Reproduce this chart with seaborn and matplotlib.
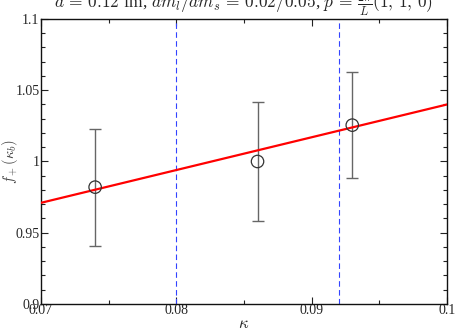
import numpy as np
import pandas as pd
import matplotlib
matplotlib.use('Agg')
import matplotlib.pyplot as plt
import seaborn as sns
from matplotlib.ticker import MultipleLocator

sns.set_style('ticks')
plt.rcParams['font.family'] = ['Liberation Serif', 'DejaVu Serif']
plt.rcParams['mathtext.fontset'] = 'cm'

# data
kappa = [0.074, 0.086, 0.093]
fplus = [0.982, 1.000, 1.0255]
fplus_err = [0.041, 0.042, 0.037]
fit_kappa = [0.07, 0.10]
fit_fplus = [0.971, 1.040]
kappa_marks = [0.080, 0.092]

pts = pd.DataFrame({'kappa': kappa, 'fplus': fplus, 'err': fplus_err})
fit = pd.DataFrame({'kappa': fit_kappa, 'fplus': fit_fplus})

fig = plt.figure(figsize=(4.57, 3.33), dpi=100)
ax = fig.add_axes([0.0897, 0.0871, 0.8884, 0.8559])

for k in kappa_marks:
    ax.axvline(k, color='#3344ff', lw=0.8, ls=(0, (5, 3)), zorder=1)

sns.lineplot(data=fit, x='kappa', y='fplus', color='red', lw=1.6, ax=ax, zorder=3)
ax.errorbar(pts['kappa'], pts['fplus'], yerr=pts['err'], fmt='none',
            ecolor='#666666', elinewidth=1.0, capsize=4, capthick=1.0, zorder=2)
sns.scatterplot(data=pts, x='kappa', y='fplus', marker='o', s=80,
                facecolor='none', edgecolor='#333333', linewidth=0.9, ax=ax, zorder=4)

ax.set_xlim(0.07, 0.1)
ax.set_ylim(0.9, 1.1)
ax.xaxis.set_minor_locator(MultipleLocator(0.005))
ax.yaxis.set_minor_locator(MultipleLocator(0.01))
ax.set_xticks([0.07, 0.08, 0.09, 0.1])
ax.set_xticklabels(['0.07', '0.08', '0.09', '0.1'])
ax.set_yticks([0.9, 0.95, 1.0, 1.05, 1.1])
ax.set_yticklabels(['0.9', '0.95', '1', '1.05', '1.1'])
ax.tick_params(which='both', direction='in', top=True, right=True, labelsize=10, color='#222222')
ax.tick_params(which='major', length=5, width=0.8)
ax.tick_params(which='minor', length=3, width=0.8)
ax.tick_params(axis='x', pad=0)
ax.tick_params(axis='y', pad=1)
for sp in ax.spines.values():
    sp.set_linewidth(1.0)
    sp.set_color('#111111')

ax.set_xlabel(r'$\kappa$', fontsize=12, labelpad=-1)
ax.set_ylabel(r'$f_+(\kappa_b)$', fontsize=10.5, color='#444444')
ax.yaxis.set_label_coords(-0.052, 0.5)
ax.set_title(r'$a\,=\,0.12$ fm, $am_l/am_s\,=\,0.02/0.05$, $p\,=\,\frac{2\pi}{L}(1,\,1,\,0)$',
             fontsize=12.5, pad=0)

fig.savefig('out.png', dpi=100)
